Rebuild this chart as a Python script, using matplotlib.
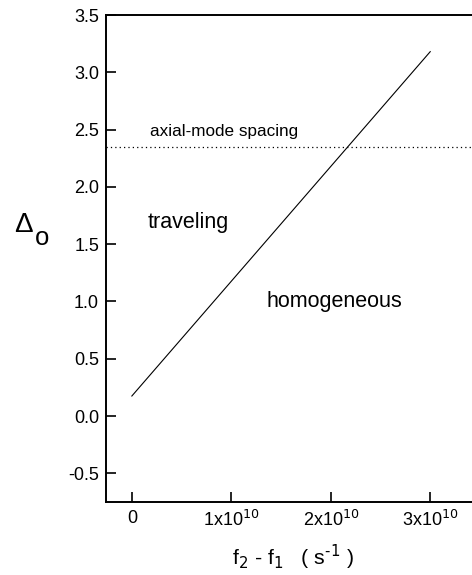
import numpy as np
import matplotlib
matplotlib.use("Agg")
import matplotlib.pyplot as plt

plt.rcParams["font.family"] = ["Liberation Sans", "DejaVu Sans"]

# threshold line: Delta_o against f2 - f1
freq_diff = [0.0, 3.0e10]
delta_o = [0.175, 3.18]
axial_spacing = 2.35

x_ticks = [0, 1e10, 2e10, 3e10]
x_tick_labels = ["0", r"1x10$^{10}$", r"2x10$^{10}$", r"3x10$^{10}$"]
y_ticks = [-0.5, 0.0, 0.5, 1.0, 1.5, 2.0, 2.5, 3.0, 3.5]

fig = plt.figure(figsize=(4.72, 5.75), dpi=100)
ax = fig.add_axes([106 / 472, 1 - 502 / 575, 1 - 106 / 472, (502 - 15) / 575])

ax.plot(freq_diff, delta_o, color="black", linewidth=0.8)
ax.axhline(axial_spacing, color="black", linestyle=(0, (1, 2.5)), linewidth=0.9)

ax.set_xlim(-0.26e10, 3.42e10)
ax.set_ylim(-0.75, 3.5)
ax.set_xticks(x_ticks)
ax.set_xticklabels(x_tick_labels)
ax.set_yticks(y_ticks)
ax.set_yticklabels(["%.1f" % v for v in y_ticks])

ax.spines["right"].set_visible(False)
for side in ["left", "bottom", "top"]:
    ax.spines[side].set_linewidth(1.4)
ax.tick_params(direction="in", length=7, width=1.2, labelsize=13, pad=6)
ax.tick_params(axis="y", pad=5)

ax.text(0.18e10, axial_spacing + 0.07, "axial-mode spacing", fontsize=12.3, va="bottom")
ax.text(0.16e10, 1.69, "traveling", fontsize=15.5, va="center")
ax.text(1.35e10, 1.0, "homogeneous", fontsize=15.5, va="center")

# axis title drawn as a large Delta with a full-size lowered "o"
fig.text(14 / 472, 1 - 232 / 575, "\u0394", fontsize=20, va="baseline", ha="left")
fig.text(35 / 472, 1 - 245 / 575, "o", fontsize=18.5, va="baseline", ha="left")
fig.text(293 / 472, 1 - 557 / 575, r"f$_2$ - f$_1$   ( s$^{\text{-1}}$ )", fontsize=15.3, ha="center", va="center")

fig.savefig("out.png", dpi=100)
